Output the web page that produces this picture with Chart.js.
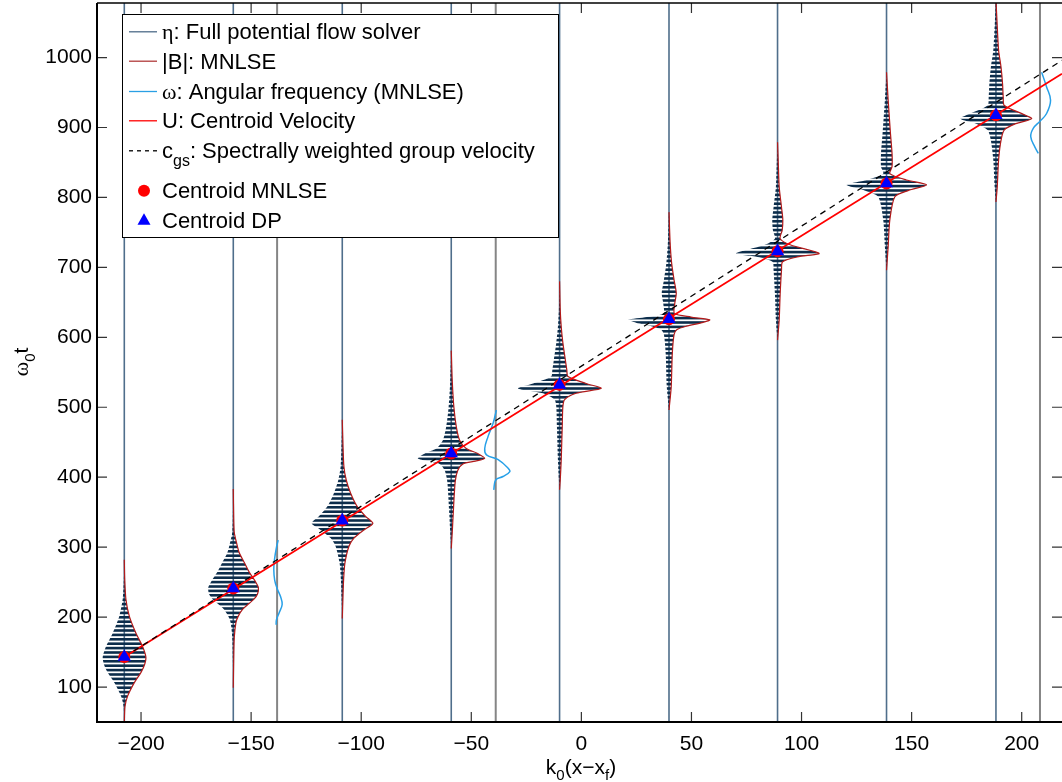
<!DOCTYPE html>
<html>
<head>
<meta charset="utf-8">
<title>Wave packet propagation</title>
<script src="https://cdn.jsdelivr.net/npm/chart.js@4.4.0/dist/chart.umd.min.js"></script>
<style>
  html, body { margin: 0; padding: 0; background: #fff; }
  canvas { display: block; }
</style>
</head>
<body>
<canvas id="chart" width="1062" height="782"></canvas>
<script>
// axes
const xTicks = [-200, -150, -100, -50, 0, 50, 100, 150, 200];
const yTicks = [100, 200, 300, 400, 500, 600, 700, 800, 900, 1000];
const xRange = [-220, 218.3];
const yRange = [50, 1078];

// wave packets: position k0(x-xf) of each snapshot and centroid time w0*t
const packetX = [-207.6, -158.1, -108.6, -59.1, -9.9, 39.8, 89.1, 138.6, 188.3];
const centroidMNLSE = [143, 241, 338, 434, 532, 626, 723, 820, 917.5];
const centroidDP = [143, 241, 338, 434, 532, 626, 723, 820, 917.5];

// |B| envelope of each packet: [time offset from centroid, amplitude]
const envelope1 = [[139,0],[110,0.2],[82,0.75],[58,2.3],[34,5.3],[15,8.3],[0,9.8],[-10,9.3],[-22,7.6],[-37,4.5],[-56,1.5],[-71,0.3],[-95,0]];
const envelope2 = [[142,0],[100,0.2],[80,0.45],[65,1.5],[51,2.7],[37,5],[23,7.3],[10,10],[1,11.4],[-8,11],[-15,9.5],[-22,7],[-30,4.2],[-40,2.2],[-49,1.2],[-70,0.45],[-100,0.2],[-142,0]];
const envelope3 = [[144,0],[110,0.3],[77,0.75],[58,1.8],[39,3.8],[20,6.8],[6,10.6],[-4,13.9],[-13,10],[-25,5.3],[-37,3],[-61,1.2],[-85,0.6],[-110,0.3],[-140,0]];
const envelope4 = [[147,0],[104,0.45],[66,1.2],[38,2.3],[19,3.8],[7,6.8],[0,12],[-7,15.2],[-11,11],[-15,5.3],[-24,3],[-40,1.8],[-86,0.9],[-110,0.5],[-136,0]];
const envelope5 = [[148,0],[107,0.3],[83,0.75],[60,1.5],[36,2.6],[21,3.3],[12,3.8],[2,12],[-5,18.9],[-12,7.5],[-21,2.3],[-31,1.5],[-60,1.2],[-107,0.75],[-136,0.3],[-150,0]];
const envelope6 = [[153,0],[110,0.5],[80,1.2],[56,2.3],[37,3.3],[22,2.6],[8,2.5],[3,10],[-1,18.5],[-5,15],[-10,8],[-15,3.5],[-22,2.3],[-49,1.5],[-97,1],[-130,0]];
const envelope7 = [[156,0],[120,0.4],[92,0.75],[63,1.8],[45,2.4],[30,2.1],[18,1.2],[9,6],[-3,18.9],[-8,9],[-15,2.3],[-27,1.8],[-60,1.2],[-98,0.75],[-127,0]];
const envelope8 = [[159,0],[119,0.75],[71,1.8],[43,2.5],[24,2.5],[14,1.5],[5,9],[-2,18.2],[-10,10],[-19,3.8],[-52,1.5],[-90,0.75],[-124,0]];
const envelope9 = [[165,0],[136,0.45],[93,1.2],[69,2.3],[45,3],[26,3.3],[14,3.8],[2,12],[-5,16.2],[-12,9],[-21,3.8],[-36,2.3],[-64,1.2],[-102,0.6],[-124,0]];
const envelopes = [envelope1, envelope2, envelope3, envelope4, envelope5, envelope6, envelope7, envelope8, envelope9];

// angular frequency traces: baseline position and [w0*t, offset]
const omegaX = [-138.2, -38.9, 208.3];
const omega1 = [[310,0.5],[301,-0.2],[282,-1.2],[268,-1.5],[253,-1.1],[241,0],[229,1.6],[218,2.3],[206,0.9],[196,-0.3],[189,-0.45]];
const omega2 = [[496,0.3],[477,-1.2],[458,-3.5],[441,-5],[432,-4.2],[425,1.1],[413,5.6],[408,6.4],[401,3.3],[396,0],[382,-0.9]];
const omega3 = [[979,0.76],[958,3],[939,4.8],[920,3],[909,0],[899,-3],[887,-4.2],[872,-2.3],[863,-0.76]];
const omegaTraces = [omega1, omega2, omega3];

// centroid velocity U and spectrally weighted group velocity cgs: [x, w0*t]
const uLine = [[-207.6, 143], [218.3, 977]];
const cgsLine = [[-207.6, 143], [218.3, 996]];

const SANS = '"Liberation Sans", Arial, sans-serif';
const SERIF = '"Liberation Serif", "DejaVu Serif", serif';

// horizontal stripes to mimic the dense oscillation of eta
const pc = document.createElement('canvas');
pc.width = 4; pc.height = 22;
const pg = pc.getContext('2d');
pg.fillStyle = '#0c2d4b';
for (let k = 0; k < 5; k++) pg.fillRect(0, k * 4.4, 4, 2.6);
const stripes = document.getElementById('chart').getContext('2d').createPattern(pc, 'repeat');

const pt = (x, y) => ({x: x, y: y});
const datasets = [];

datasets.push({
  label: 'Centroid DP', data: packetX.map((x, i) => pt(x, centroidDP[i])),
  pointStyle: 'triangle', pointRadius: 7.7, backgroundColor: '#0000ff', borderWidth: 0, order: 0
});
datasets.push({
  label: 'Centroid MNLSE', data: packetX.map((x, i) => pt(x, centroidMNLSE[i])),
  pointStyle: 'circle', pointRadius: 6, backgroundColor: '#ff0000', borderWidth: 0, order: 1
});
datasets.push({
  label: 'cgs', data: cgsLine.map(p => pt(p[0], p[1])), showLine: true,
  borderColor: '#000', borderWidth: 1.3, borderDash: [6, 5], order: 2
});
datasets.push({
  label: 'U', data: uLine.map(p => pt(p[0], p[1])), showLine: true,
  borderColor: '#ff0000', borderWidth: 1.8, order: 3
});

envelopes.forEach((env, i) => {
  const x0 = packetX[i], t0 = centroidMNLSE[i];
  const right = env.map(e => pt(x0 + e[1], t0 + e[0]));
  const left = env.slice().reverse().map(e => pt(x0 - e[1], t0 + e[0]));
  datasets.push({
    label: '|B|', data: right, showLine: true, tension: 0.25,
    borderColor: '#b21a1a', borderWidth: 1.2, order: 4
  });
  datasets.push({
    label: 'eta', data: right.concat(left), showLine: true, tension: 0.25,
    borderWidth: 0, backgroundColor: stripes, fill: 'shape', order: 5
  });
  datasets.push({
    label: 'eta line', data: [pt(x0, yRange[0]), pt(x0, yRange[1])], showLine: true,
    borderColor: '#4f6e8b', borderWidth: 1.6, order: 6
  });
});

omegaTraces.forEach((tr, i) => {
  datasets.push({
    label: 'omega', data: tr.map(p => pt(omegaX[i] + p[1], p[0])), showLine: true, tension: 0.4,
    borderColor: '#27a0e8', borderWidth: 1.5, order: 4
  });
  datasets.push({
    label: 'omega line', data: [pt(omegaX[i], yRange[0]), pt(omegaX[i], yRange[1])], showLine: true,
    borderColor: '#858585', borderWidth: 2, order: 7
  });
});

function drawRich(c, x, y, parts, align) {
  let w = 0;
  parts.forEach(p => { c.font = p[1]; w += c.measureText(p[0]).width; });
  let cx = align === 'center' ? x - w / 2 : x;
  parts.forEach(p => {
    c.font = p[1];
    c.fillText(p[0], cx, y + (p[2] || 0));
    cx += c.measureText(p[0]).width;
  });
}

// box with inward ticks on all four sides (right edge falls off the canvas)
const axesBox = {
  id: 'axesBox',
  afterDatasetsDraw(chart) {
    const c = chart.ctx, a = chart.chartArea, sx = chart.scales.x, sy = chart.scales.y;
    c.save();
    c.strokeStyle = '#333';
    c.lineWidth = 1.2;
    c.beginPath();
    sx.ticks.forEach(t => {
      const px = sx.getPixelForValue(t.value);
      c.moveTo(px, a.bottom); c.lineTo(px, a.bottom - 10);
      c.moveTo(px, a.top); c.lineTo(px, a.top + 10);
    });
    sy.ticks.forEach(t => {
      const py = sy.getPixelForValue(t.value);
      c.moveTo(a.left, py); c.lineTo(a.left + 10, py);
      c.moveTo(a.right, py); c.lineTo(a.right - 10, py);
    });
    c.stroke();
    c.strokeStyle = '#000';
    c.lineWidth = 2;
    c.beginPath();
    c.moveTo(a.left, a.top); c.lineTo(a.left, a.bottom); c.lineTo(a.right, a.bottom);
    c.stroke();
    c.lineWidth = 1.3;
    c.beginPath();
    c.moveTo(a.left, a.top); c.lineTo(a.right, a.top);
    c.stroke();
    c.restore();
  }
};

// axis titles with subscripts and the legend box
const titlesAndLegend = {
  id: 'titlesAndLegend',
  afterDraw(chart) {
    const c = chart.ctx;
    const F = '22px ' + SANS;
    c.save();
    c.fillStyle = '#000';
    c.textBaseline = 'alphabetic';

    drawRich(c, 581, 774, [['k', '21px ' + SANS], ['0', '15px ' + SANS, 6], ['(x\u2212x', '21px ' + SANS], ['f', '15px ' + SANS, 6], [')', '21px ' + SANS]], 'center');
    c.save();
    c.translate(28, 362);
    c.rotate(-Math.PI / 2);
    drawRich(c, 0, 0, [['\u03c9', '22px ' + SERIF], ['0', '15px ' + SANS, 7], ['t', '21px ' + SANS]], 'center');
    c.restore();

    c.fillStyle = '#fff';
    c.fillRect(122.5, 14.5, 436, 223);
    c.strokeStyle = '#000';
    c.lineWidth = 1;
    c.strokeRect(122.5, 14.5, 436, 223);

    const rows = [
      {y: 39.3, line: '#4d6b88', text: [['\u03b7', '22px ' + SERIF], [': Full potential flow solver', F]]},
      {y: 68.7, line: '#b03a3a', text: [['|B|: MNLSE', F]]},
      {y: 99, line: '#2a9fe4', text: [['\u03c9', '22px ' + SERIF], [': Angular frequency (MNLSE)', F]]},
      {y: 128.3, line: '#ff0000', text: [['U: Centroid Velocity', F]]},
      {y: 158.3, line: '#000', dash: [4, 4], text: [['c', F], ['gs', '16px ' + SANS, 8], [': Spectrally weighted group velocity', F]]},
      {y: 198.3, marker: 'circle', text: [['Centroid MNLSE', F]]},
      {y: 227.7, marker: 'triangle', text: [['Centroid DP', F]]}
    ];
    rows.forEach(r => {
      const my = r.y - 7.5;
      if (r.line) {
        c.save();
        c.strokeStyle = r.line;
        c.lineWidth = 1.3;
        if (r.dash) c.setLineDash(r.dash);
        c.beginPath(); c.moveTo(129, my); c.lineTo(157, my); c.stroke();
        c.restore();
      } else if (r.marker === 'circle') {
        c.fillStyle = '#ff0000';
        c.beginPath(); c.arc(144, my, 6, 0, Math.PI * 2); c.fill();
      } else {
        c.fillStyle = '#0000ff';
        c.beginPath(); c.moveTo(144, my - 7); c.lineTo(150.5, my + 4.5); c.lineTo(137.5, my + 4.5); c.closePath(); c.fill();
      }
      c.fillStyle = '#000';
      drawRich(c, 162, r.y, r.text);
    });
    c.restore();
  }
};

const minus = v => String(v).replace('-', '\u2212');

new Chart(document.getElementById('chart'), {
  type: 'scatter',
  data: { datasets: datasets },
  options: {
    responsive: false,
    animation: false,
    events: [],
    layout: { autoPadding: false, padding: { top: 3, right: 0, left: 0, bottom: 0 } },
    elements: { point: { radius: 0 } },
    plugins: { legend: { display: false }, tooltip: { enabled: false } },
    scales: {
      x: {
        type: 'linear', min: xRange[0], max: xRange[1],
        grid: { display: false, drawTicks: false }, border: { display: false },
        afterBuildTicks: s => { s.ticks = xTicks.map(v => ({value: v})); },
        afterFit: s => { s.height = 60; s.paddingLeft = 0; s.paddingRight = 0; },
        ticks: { autoSkip: false, maxRotation: 0, padding: 10, color: '#000', font: { family: SANS, size: 21 }, callback: v => minus(v) }
      },
      y: {
        type: 'linear', min: yRange[0], max: yRange[1],
        grid: { display: false, drawTicks: false }, border: { display: false },
        afterBuildTicks: s => { s.ticks = yTicks.map(v => ({value: v})); },
        afterFit: s => { s.width = 97; s.paddingTop = 0; s.paddingBottom = 0; },
        ticks: { autoSkip: false, padding: 5, color: '#000', font: { family: SANS, size: 21 }, callback: v => String(v) }
      }
    }
  },
  plugins: [axesBox, titlesAndLegend]
});
</script>
</body>
</html>
